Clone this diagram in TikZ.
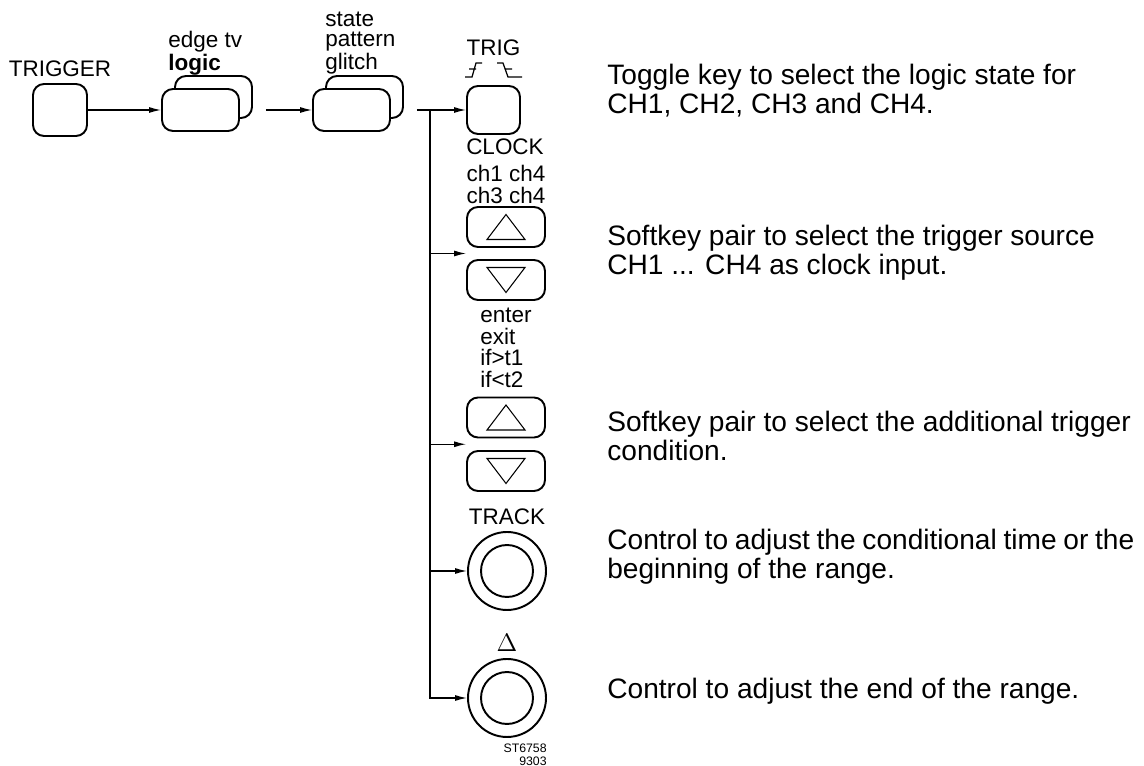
\documentclass[tikz,border=0pt]{standalone}
\usepackage{fontspec}
\setmainfont{Liberation Sans}
\usetikzlibrary{arrows.meta,positioning,calc}

\begin{document}
\begin{tikzpicture}[
  x=0.02cm, y=-0.02cm,
  font=\fontsize{12.8}{14}\selectfont,
  key/.style={draw, line width=1.1pt, rounded corners=2.2mm, fill=white, inner sep=0pt},
  softkey/.style={key, minimum width=1.56cm, minimum height=0.8cm},
  knob/.style={draw, line width=1.1pt, circle, minimum size=1.56cm, inner sep=0pt},
  lbl/.style={align=center, inner sep=0pt},
  stack/.style={align=left, anchor=west, inner sep=0pt, font=\fontsize{12.8}{11.8}\selectfont},
  info/.style={align=left, anchor=west, inner sep=0pt, font=\fontsize{16}{16.5}\selectfont},
  arrow/.style={-{Latex[length=2.4mm, width=1.2mm]}, line width=0.7pt}
]
\useasboundingbox (0,0) rectangle (1144,766);

% menu keys
\node[key, minimum width=1.08cm, minimum height=1.04cm] (trigger) at (60,110) {};
\node[lbl, above=0.12cm of trigger] (triggerlbl) {TRIGGER};
\node[key, minimum width=1.54cm, minimum height=0.84cm] (edgeback) at (213.5,97) {};
\node[key, minimum width=1.54cm, minimum height=0.84cm] (edge) at (200.5,110) {};
\node[stack] (edgelbl) at (168,53) {edge tv\\\textbf{logic}};
\node[key, minimum width=1.54cm, minimum height=0.84cm] (stateback) at (364.5,97) {};
\node[key, minimum width=1.54cm, minimum height=0.84cm] (state) at (351.5,110) {};
\node[stack] (statelbl) at (325,43) {state\\pattern\\glitch};

% column of controls
\node[key, minimum width=1.06cm, minimum height=0.96cm] (trig) at (493.5,110) {};
\node[lbl] (triglbl) at (493.5,47.5) {TRIG};
\node[lbl] (clocklbl) at (505,147) {CLOCK};
\node[lbl, font=\fontsize{12.8}{12.5}\selectfont] (chlbl) at (506,184) {ch1 ch4\\ch3 ch4};
\node[softkey] (up1) at (506,227) {};
\node[softkey] (down1) at (506,280) {};
\node[stack, font=\fontsize{12.8}{12.3}\selectfont] (modelbl) at (480,348) {enter\\exit\\if>t1\\if<t2};
\node[softkey] (up2) at (506,417.5) {};
\node[softkey] (down2) at (506,471) {};
\node[lbl] (tracklbl) at (507,517) {TRACK};
\node[knob] (track) at (507,571) {};
\node[lbl, font=\fontsize{14}{14}\selectfont] (deltalbl) at (507,643) {$\Delta$};
\node[knob] (range) at (507,698) {};
\node[lbl, align=right, anchor=east, font=\fontsize{7}{7.5}\selectfont] (stlbl) at (547,755) {ST6758\\9303};

% key symbols
\draw[line width=0.7pt, shift={(trig.north)}]
  (-28.5,-8) -- (-21.5,-8) -- (-17.5,-22) -- (-11.5,-22) (-24.5,-16) -- (-17.5,-16)
  (3.5,-22) -- (9.5,-22) -- (14.5,-8) -- (28.5,-8) (11.5,-16) -- (18.5,-16);
\foreach \k in {up1,up2}
  \draw[line width=0.6pt] ($(\k)+(-19,12.5)$) -- ($(\k)+(19,12.5)$) -- ($(\k)+(0,-12.5)$) -- cycle;
\foreach \k in {down1,down2}
  \draw[line width=0.6pt] ($(\k)+(-19,-12.5)$) -- ($(\k)+(19,-12.5)$) -- ($(\k)+(0,12.5)$) -- cycle;
\foreach \k in {track,range}
  \draw[line width=1.1pt] (\k) circle[radius=0.52cm];

% explanations
\node[info] (trigtxt) at (607,91) {Toggle key to select the logic state for\\CH1, CH2, CH3 and CH4.};
\node[info] (sourcetxt) at (607,253) {Softkey pair to select the trigger source\\CH1 ... CH4 as clock input.};
\node[info] (condtxt) at (607,436) {Softkey pair to select the additional trigger\\condition.};
\node[info] (tracktxt) at (607,557) {\spaceskip=0.24em Control to adjust the conditional time or the\\beginning of the range.};
\node[info] (rangetxt) at (607,691) {Control to adjust the end of the range.};

% connections
\coordinate (bus) at (430,110);
\coordinate (pair1) at ($(up1.south)!0.5!(down1.north)$);
\coordinate (pair2) at ($(up2.south)!0.5!(down2.north)$);
\draw[arrow] (trigger) -- (edge);
\draw[arrow] ($(edgeback.east |- edge.east)+(13,0)$) -- (state.west);
\draw[arrow] ($(stateback.east |- state.east)+(13,0)$) -- (trig.west);
\draw[arrow] (bus) |- (range.west);
\draw[arrow] (bus |- pair1) -- (pair1 -| up1.west);
\draw[arrow] (bus |- pair2) -- (pair2 -| up2.west);
\draw[arrow] (bus |- track.west) -- (track.west);
\end{tikzpicture}
\end{document}
